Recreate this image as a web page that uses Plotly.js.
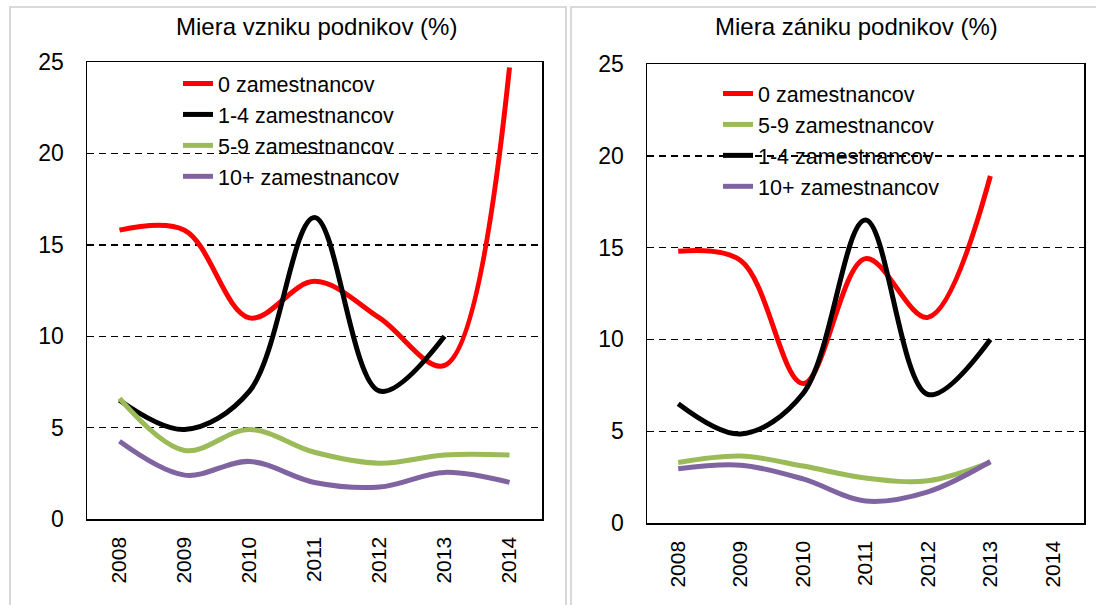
<!DOCTYPE html>
<html>
<head>
<meta charset="utf-8">
<script src="https://cdn.plot.ly/plotly-3.0.1.min.js"></script>
<style>html,body{margin:0;padding:0;background:#fff;}#chart{width:1096px;height:605px;}</style>
</head>
<body>
<div id="chart"></div>
<script>
// ---- data ----
const years = ['2008', '2009', '2010', '2011', '2012', '2013', '2014'];

// Miera vzniku podnikov (%)
const vznik0 = [15.8, 15.8, 11.0, 13.0, 11.0, 8.4, 24.7];
const vznik14 = [6.5, 4.9, 7.0, 16.5, 7.0, 10.0];
const vznik59 = [6.6, 3.75, 4.9, 3.65, 3.05, 3.5, 3.5];
const vznik10 = [4.25, 2.4, 3.15, 2.0, 1.75, 2.55, 2.0];

// Miera zániku podnikov (%)
const zanik0 = [14.8, 14.3, 7.6, 14.4, 11.2, 18.9];
const zanik59 = [3.3, 3.65, 3.1, 2.45, 2.3, 3.3];
const zanik14 = [6.5, 4.85, 7.05, 16.5, 7.0, 10.0];
const zanik10 = [2.95, 3.15, 2.4, 1.2, 1.7, 3.35];

const names = {z0: '0 zamestnancov', z14: '1-4 zamestnancov', z59: '5-9 zamestnancov', z10: '10+ zamestnancov'};
const titles = ['Miera vzniku podnikov (%)', 'Miera zániku podnikov (%)'];
const yTicks = [0, 5, 10, 15, 20, 25];

// ---- styles ----
const RED = '#ff0000', BLACK = '#000000', GREEN = '#9bbb59', PURPLE = '#8064a2';
const FONT = 'Liberation Sans, Arial, sans-serif';
const W = 1096, H = 605;
const px = v => v / W, py = v => (H - v) / H;

function tr(vals, name, color, xa, ya, legend, grp) {
  return {
    x: years.slice(0, vals.length), y: vals, name: name,
    type: 'scatter', mode: 'lines',
    line: {color: color, width: 5, shape: 'spline', smoothing: 1},
    xaxis: xa, yaxis: ya, legend: legend, legendgroup: grp,
    hoverinfo: 'skip'
  };
}

const data = [
  tr(vznik0, names.z0, RED, 'x', 'y', 'legend', 'a'),
  tr(vznik14, names.z14, BLACK, 'x', 'y', 'legend', 'b'),
  tr(vznik59, names.z59, GREEN, 'x', 'y', 'legend', 'c'),
  tr(vznik10, names.z10, PURPLE, 'x', 'y', 'legend', 'd'),
  tr(zanik0, names.z0, RED, 'x2', 'y2', 'legend2', 'e'),
  tr(zanik59, names.z59, GREEN, 'x2', 'y2', 'legend2', 'f'),
  tr(zanik14, names.z14, BLACK, 'x2', 'y2', 'legend2', 'g'),
  tr(zanik10, names.z10, PURPLE, 'x2', 'y2', 'legend2', 'h')
];

function xax(domain, anchor) {
  return {
    domain: domain, anchor: anchor, type: 'category',
    categoryorder: 'array', categoryarray: years, range: [-0.5, 6.5],
    tickangle: -90, tickfont: {family: FONT, size: 21, color: '#000'},
    showgrid: false, zeroline: false, showline: true, mirror: true,
    linecolor: '#000', linewidth: 1.5, ticks: '', ticklabelstandoff: 8,
    fixedrange: true
  };
}
function yax(domain, anchor) {
  return {
    domain: domain, anchor: anchor, range: [0, 25], tickvals: yTicks,
    tickfont: {family: FONT, size: 23, color: '#000'},
    showgrid: true, gridcolor: '#000', gridwidth: 1.4, griddash: '7px,5px',
    zeroline: false, showline: true, mirror: true,
    linecolor: '#000', linewidth: 1.5, ticks: '', ticklabelstandoff: 17,
    fixedrange: true
  };
}

const legendBase = {
  bgcolor: 'rgba(0,0,0,0)', borderwidth: 0,
  font: {family: FONT, size: 21.5, color: '#000'},
  xanchor: 'left', yanchor: 'top', tracegroupgap: 9,
  traceorder: 'normal', itemclick: false, itemdoubleclick: false
};

const layout = {
  width: W, height: H,
  margin: {l: 0, r: 0, t: 0, b: 0},
  paper_bgcolor: '#fff', plot_bgcolor: 'rgba(0,0,0,0)',
  showlegend: true,
  xaxis: xax([px(87), px(542)], 'y'),
  yaxis: yax([py(519), py(62)], 'x'),
  xaxis2: xax([px(647), px(1084)], 'y2'),
  yaxis2: yax([py(523), py(64)], 'x2'),
  legend: Object.assign({}, legendBase, {x: px(178), y: py(63)}),
  legend2: Object.assign({}, legendBase, {x: px(718), y: py(73)}),
  annotations: [
    {text: titles[0], xref: 'paper', yref: 'paper', x: px(316), y: py(27),
     xanchor: 'center', yanchor: 'middle', showarrow: false,
     font: {family: FONT, size: 24, color: '#000'}},
    {text: titles[1], xref: 'paper', yref: 'paper', x: px(856), y: py(27),
     xanchor: 'center', yanchor: 'middle', showarrow: false,
     font: {family: FONT, size: 24, color: '#000'}}
  ],
  shapes: [
    {type: 'rect', xref: 'paper', yref: 'paper', x0: px(10), x1: px(566), y0: -0.05, y1: py(7),
     line: {color: '#d9d9d9', width: 2}, layer: 'below'},
    {type: 'rect', xref: 'paper', yref: 'paper', x0: px(571), x1: 1.05, y0: -0.05, y1: py(7),
     line: {color: '#d9d9d9', width: 2}, layer: 'below'}
  ]
};

Plotly.newPlot('chart', data, layout, {staticPlot: true, displayModeBar: false});
</script>
</body>
</html>
